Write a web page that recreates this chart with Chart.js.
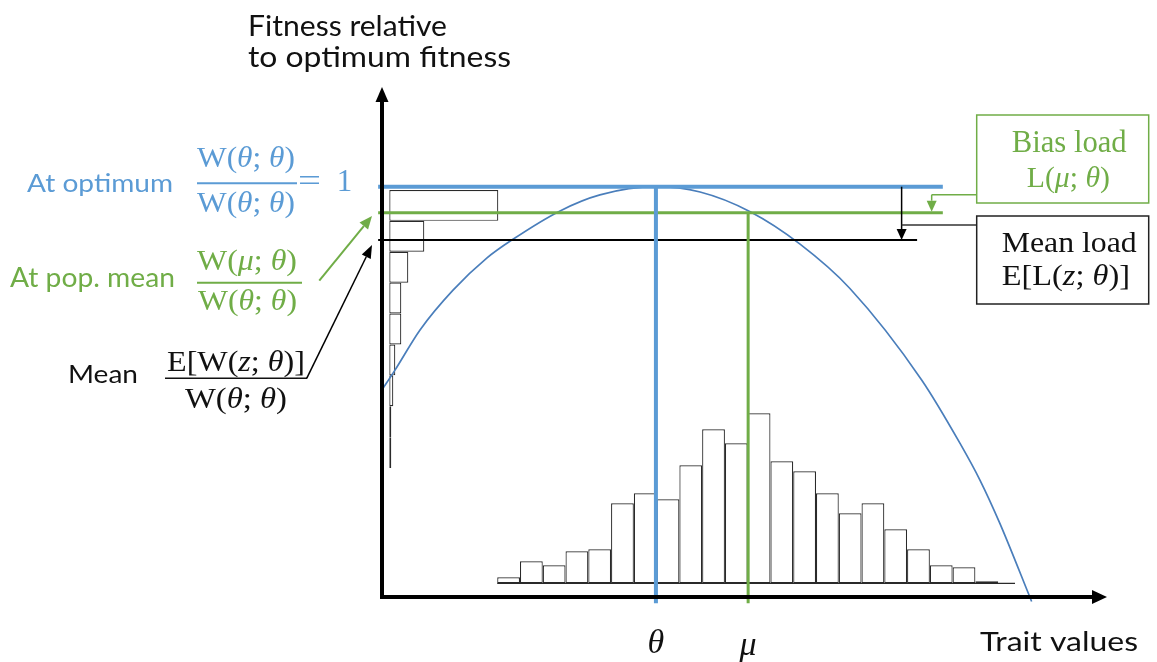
<!DOCTYPE html>
<html>
<head>
<meta charset="utf-8">
<script src="https://cdn.jsdelivr.net/npm/chart.js@4.4.1/dist/chart.umd.min.js"></script>
<style>
html,body{margin:0;padding:0;background:#fff;}
#wrap{width:1157px;height:662px;position:relative;}
</style>
</head>
<body>
<div id="wrap"><canvas id="c"></canvas></div>
<script>
// ---------- data ----------
const traitBinCenters = [-6.47,-5.47,-4.47,-3.47,-2.47,-1.47,-0.47,0.53,1.53,2.53,3.53,4.53,5.53,6.53,7.53,8.53,9.53,10.53,11.53,12.53,13.53,14.53];
const traitCounts = [3,11,9,16,17,40,45,42,59,77,70,85,61,56,45,35,40,27,17,9,8,1];
const fitnessBinCenters = [0.9544,0.8791,0.8038,0.7285,0.6532,0.5779,0.5026,0.4273,0.3520];
const fitnessCounts = [109,35,19,12,12,6,4,2,2];
const curveTrait   = [-12.03,-11.46,-10.36,-8.91,-7.43,-6.33,-4.21,-2.46,0,1.94,4.14,6.33,8.52,11.67,13.35,14.23,15.10,16.50];
const curveFitness = [0.505,0.553,0.651,0.748,0.826,0.870,0.941,0.980,1.000,0.987,0.939,0.860,0.752,0.529,0.375,0.285,0.180,-0.011];
const theta = 0, mu = 4.05;
const fitOpt = 1, fitMu = 0.9366, fitMean = 0.870;
const levelStart = -12.2, levelEnd = 12.6, meanLevelEnd = 11.47;
const histBaseStart = -6.97, histBaseEnd = 15.77;
const biasArrowTrait = 12.11, meanArrowTrait = 10.79;

// ---------- styles ----------
const SANS = 'Lato, "Open Sans", sans-serif';
const SERIF = '"Liberation Serif", "DejaVu Serif", serif';
const BLUE = '#5B9BD5', GREEN = '#70AD47', CURVE = '#4a7ebb', INK = '#111111', HIST = '#2a2a2a';

function segFont(size, it, fam){ return (it ? 'italic ' : '') + size.toFixed(2) + 'px ' + fam; }
function measureSegs(ctx, segs, size, fam){ let w = 0; for (const [t,it] of segs){ ctx.font = segFont(size,it,fam); w += ctx.measureText(t).width; } return w; }
// draw text with given font size, stretched horizontally to span [left,right]
function fitText(ctx, segs, left, right, base, size, fam, color){
  const w = measureSegs(ctx, segs, size, fam); const k = (right-left)/w;
  ctx.save(); ctx.translate(left, base); ctx.scale(k, 1);
  ctx.fillStyle = color; let xx = 0;
  for (const [t,it] of segs){ ctx.font = segFont(size,it,fam); ctx.fillText(t, xx, 0); xx += ctx.measureText(t).width; }
  ctx.restore();
}
function centerText(ctx, segs, cx, base, size, fam, color){
  const w = measureSegs(ctx, segs, size, fam); ctx.fillStyle = color; let xx = cx - w/2;
  for (const [t,it] of segs){ ctx.font = segFont(size,it,fam); ctx.fillText(t, xx, base); xx += ctx.measureText(t).width; }
}
function arrow(ctx, x1, y1, x2, y2, color, lw, hl, hw){
  const ang = Math.atan2(y2-y1, x2-x1);
  const bx = x2 - hl*Math.cos(ang), by = y2 - hl*Math.sin(ang);
  ctx.strokeStyle = color; ctx.fillStyle = color; ctx.lineWidth = lw;
  ctx.beginPath(); ctx.moveTo(x1,y1); ctx.lineTo(bx,by); ctx.stroke();
  ctx.beginPath(); ctx.moveTo(x2,y2);
  ctx.lineTo(bx + hw*Math.sin(ang), by - hw*Math.cos(ang));
  ctx.lineTo(bx - hw*Math.sin(ang), by + hw*Math.cos(ang));
  ctx.closePath(); ctx.fill();
}
function line(ctx, x1, y1, x2, y2, color, lw){
  ctx.strokeStyle = color; ctx.lineWidth = lw; ctx.beginPath(); ctx.moveTo(x1,y1); ctx.lineTo(x2,y2); ctx.stroke();
}

const annot = {
  id: 'annot',
  afterDatasetsDraw(chart){
    const ctx = chart.ctx, a = chart.chartArea, sx = chart.scales.x, sy = chart.scales.y;
    ctx.save();
    ctx.textBaseline = 'alphabetic'; ctx.textAlign = 'left';
    const ax = a.left, ay = a.bottom;
    // axes with arrowheads
    arrow(ctx, ax, ay + 2, ax, a.top, '#000', 4, 15, 6.5);
    arrow(ctx, ax - 2, ay, a.right, ay, '#000', 4, 15, 7);

    const yOpt = sy.getPixelForValue(fitOpt), yMu = sy.getPixelForValue(fitMu), yMean = sy.getPixelForValue(fitMean);
    const boxL = 976.7, boxW = 172;
    // mean load arrow and connector
    const xB = sx.getPixelForValue(meanArrowTrait);
    arrow(ctx, xB, yOpt, xB, yMean, '#000', 1.5, 11, 5);
    line(ctx, xB, yMean - 15, boxL, yMean - 15, '#333', 1.5);
    // bias load arrow and connector
    const xG = sx.getPixelForValue(biasArrowTrait);
    arrow(ctx, xG, yOpt + 8, xG, yMu - 1, GREEN, 1.5, 11, 5);
    line(ctx, xG, yOpt + 8, boxL, yOpt + 8, GREEN, 1.5);
    // boxes
    ctx.lineWidth = 1.5;
    ctx.strokeStyle = GREEN; ctx.strokeRect(boxL, 115, boxW, 88);
    ctx.strokeStyle = '#222'; ctx.strokeRect(boxL, 216, boxW, 88);
    fitText(ctx, [['Bias load',0]], 1011.7, 1126.7, 151.7, 32, SERIF, GREEN);
    fitText(ctx, [['L(',0],['\u03BC',1],['; ',0],['\u03B8',1],[')',0]], 1026.7, 1110, 186.7, 30, SERIF, GREEN);
    fitText(ctx, [['Mean load',0]], 1001.7, 1136.7, 251.7, 30, SERIF, INK);
    fitText(ctx, [['E[L(',0],['z',1],['; ',0],['\u03B8',1],[')]',0]], 1001.7, 1130, 285, 30, SERIF, INK);

    // axis titles
    fitText(ctx, [['Fitness relative',0]], 248, 447, 36, 28, SANS, INK);
    fitText(ctx, [['to optimum fitness',0]], 248, 511, 67, 28, SANS, INK);
    fitText(ctx, [['Trait values',0]], 980, 1138, 651, 27.5, SANS, INK);
    centerText(ctx, [['\u03B8',1]], sx.getPixelForValue(theta), 653, 34, SERIF, INK);
    centerText(ctx, [['\u03BC',1]], sx.getPixelForValue(mu), 655, 34, SERIF, INK);

    // left labels
    fitText(ctx, [['At optimum',0]], 27, 173, 192, 25.5, SANS, BLUE);
    fitText(ctx, [['At pop. mean',0]], 10, 175, 287, 26, SANS, GREEN);
    fitText(ctx, [['Mean',0]], 68, 138, 383, 25.5, SANS, INK);

    const wtt = [['W(',0],['\u03B8',1],['; ',0],['\u03B8',1],[')',0]];
    fitText(ctx, wtt, 197, 295, 167, 30, SERIF, BLUE);
    line(ctx, 197, 183.3, 297, 183.3, BLUE, 2);
    fitText(ctx, wtt, 197, 295, 211.5, 30, SERIF, BLUE);
    fitText(ctx, [['=',0]], 298, 321, 191, 32, SERIF, BLUE);
    centerText(ctx, [['1',0]], 344.5, 190.5, 31, SERIF, BLUE);

    fitText(ctx, [['W(',0],['\u03BC',1],['; ',0],['\u03B8',1],[')',0]], 197, 297, 270, 30, SERIF, GREEN);
    line(ctx, 197, 282.7, 302, 282.7, GREEN, 2);
    fitText(ctx, wtt, 198, 297, 310, 30, SERIF, GREEN);

    fitText(ctx, [['E[W(',0],['z',1],['; ',0],['\u03B8',1],[')]',0]], 167, 305, 370.5, 30, SERIF, INK);
    line(ctx, 165, 378.3, 307, 378.3, INK, 1.5);
    fitText(ctx, wtt, 185, 287, 408, 30, SERIF, INK);

    // pointer arrows to the fitness axis
    arrow(ctx, 319.3, 280.7, ax - 10, yMu + 3.3, GREEN, 2, 13, 5.5);
    arrow(ctx, 306.7, 378.3, ax - 10, yMean + 5, '#000', 1.5, 13, 5);
    ctx.restore();
  }
};

const tk = {includeBounds:false, stepSize:100};
const hidden = (min, max) => ({type:'linear', display:false, min, max, offset:false, ticks:tk, grid:{display:false}});

new Chart(document.getElementById('c'), {
  type: 'line',
  data: {
    datasets: [
      {type:'line', data:[{x:levelStart,y:fitOpt},{x:levelEnd,y:fitOpt}], borderColor:BLUE, borderWidth:4, pointRadius:0, clip:false, order:1},
      {type:'line', data:[{x:theta,y:fitOpt},{x:theta,y:-0.015}], borderColor:BLUE, borderWidth:4, pointRadius:0, clip:false, order:1},
      {type:'line', data:[{x:levelStart,y:fitMu},{x:levelEnd,y:fitMu}], borderColor:GREEN, borderWidth:3, pointRadius:0, clip:false, order:2},
      {type:'line', data:[{x:mu,y:fitMu},{x:mu,y:-0.015}], borderColor:GREEN, borderWidth:3, pointRadius:0, clip:false, order:2},
      {type:'line', data:[{x:levelStart,y:fitMean},{x:meanLevelEnd,y:fitMean}], borderColor:'#000', borderWidth:2, pointRadius:0, clip:false, order:3},
      {type:'line', data: curveTrait.map((t,i)=>({x:t, y:curveFitness[i]})), borderColor:CURVE, borderWidth:1.7, pointRadius:0, cubicInterpolationMode:'monotone', clip:false, order:4},
      {type:'line', yAxisID:'y2', data:[{x:histBaseStart,y:0},{x:histBaseEnd,y:0}], borderColor:HIST, borderWidth:1.2, pointRadius:0, order:5},
      {type:'bar', xAxisID:'x', yAxisID:'y2', data: traitBinCenters.map((c,i)=>({x:c, y:traitCounts[i]})),
        backgroundColor:'#fff', borderColor:HIST, borderWidth:1.2, borderSkipped:false, barPercentage:1, categoryPercentage:1, grouped:false, inflateAmount:0, order:6},
      {type:'bar', indexAxis:'y', xAxisID:'xh', yAxisID:'y', data: fitnessBinCenters.map((c,i)=>({x:fitnessCounts[i], y:c})),
        backgroundColor:'#fff', borderColor:HIST, borderWidth:1.2, borderSkipped:false, barPercentage:1, categoryPercentage:1, grouped:false, inflateAmount:0, order:7}
    ]
  },
  options: {
    responsive:true, maintainAspectRatio:false, animation:false, devicePixelRatio:1, events:[],
    layout:{padding:{left:382, right:50, top:87, bottom:65}},
    plugins:{legend:{display:false}, tooltip:{enabled:false}, title:{display:false}},
    scales:{
      x: hidden(-12.03, 19.81),
      y: hidden(0, 1.243),
      y2: hidden(-6.85, 248.15),
      xh: hidden(-7.3, 717.7)
    }
  },
  plugins:[annot]
});
</script>
</body>
</html>
